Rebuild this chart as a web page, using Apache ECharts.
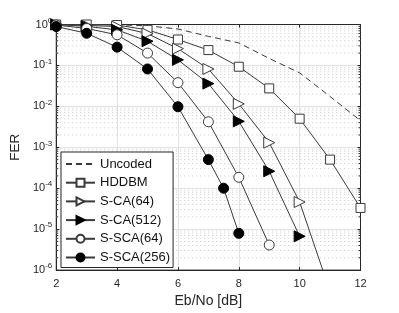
<!DOCTYPE html>
<html><head><meta charset="utf-8">
<script src="https://cdn.jsdelivr.net/npm/echarts@6/dist/echarts.min.js"></script>
<style>html,body{margin:0;padding:0;background:#fff}#c{width:399px;height:313px}</style>
</head><body><div id="c"></div>
<script>
// Data
const uncodedX = [2, 3, 4, 5, 6, 7, 8, 9, 10, 11, 12];
const uncodedY = [1, 1, 0.98, 0.93, 0.776, 0.513, 0.355, 0.148, 0.066, 0.0174, 0.00447];

const hddbmX = [2, 3, 4, 5, 6, 7, 8, 9, 10, 11, 12];
const hddbmY = [1, 1, 0.97, 0.74, 0.43, 0.237, 0.093, 0.0275, 0.005, 0.0005, 3.3e-5];

const sca64X = [2, 3, 4, 5, 6, 7, 8, 9, 10, 11];
const sca64Y = [1, 0.95, 0.89, 0.6, 0.257, 0.082, 0.0115, 0.0013, 4.6e-5, 3e-7];

const sca512X = [2, 3, 4, 5, 6, 7, 8, 9, 10];
const sca512Y = [1, 0.9, 0.74, 0.39, 0.137, 0.036, 0.0043, 2.6e-4, 6.7e-6];

const ssca64X = [2, 3, 4, 5, 6, 7, 8, 9];
const ssca64Y = [0.97, 0.8, 0.56, 0.2, 0.038, 0.0042, 1.85e-4, 4.1e-6];

const ssca256X = [2, 3, 4, 5, 6, 7, 7.5, 8];
const ssca256Y = [0.89, 0.61, 0.28, 0.082, 0.0098, 5e-4, 1e-4, 7.9e-6];

const seriesNames = ['Uncoded', 'HDDBM', 'S-CA(64)', 'S-CA(512)', 'S-SCA(64)', 'S-SCA(256)'];
const xTicks = [2, 4, 6, 8, 10, 12];
const yMin = 1e-6, yMax = 1;

function pairs(xs, ys) { return xs.map((x, i) => [x, ys[i]]); }

// minor decade values 2..9 x 10^k
const minorVals = [];
for (let e = -6; e < 0; e++) for (let m = 2; m <= 9; m++) minorVals.push([2, m * Math.pow(10, e)]);

const lineCol = '#3a3a3a';
const axisCol = '#262626';
const font = '"Liberation Sans", Arial, sans-serif';

function lineSeries(name, data, symbol, filled, size, rotate) {
  return {
    name: name, type: 'line', data: data, symbol: symbol, symbolSize: size,
    symbolRotate: rotate || 0,
    lineStyle: { color: lineCol, width: 1 },
    itemStyle: { color: filled ? '#000' : '#fff', borderColor: filled ? '#000' : lineCol, borderWidth: 1 },
    z: 3, clip: true, animation: false
  };
}

const chart = echarts.init(document.getElementById('c'));
chart.setOption({
  animation: false,
  backgroundColor: '#fff',
  grid: { left: 51.7, right: 38.5, top: 24.5, bottom: 37, show: true, borderColor: axisCol, borderWidth: 1, backgroundColor: 'transparent' },
  legend: {
    data: seriesNames.map(n => ({ name: n })),
    orient: 'vertical', left: 61, top: 152,
    itemWidth: 29, itemHeight: 10, itemGap: 4.7,
    padding: [5, 3, 3, 4],
    backgroundColor: '#fff', borderColor: axisCol, borderWidth: 1,
    textStyle: { fontFamily: font, fontSize: 13, color: '#111', lineHeight: 14 },
    selectedMode: false
  },
  xAxis: [{
    type: 'value', min: 2, max: 12, interval: 2,
    name: 'Eb/No [dB]', nameLocation: 'middle', nameGap: 23,
    nameTextStyle: { fontFamily: font, fontSize: 14, color: axisCol },
    axisLine: { show: true, onZero: false, lineStyle: { color: axisCol } },
    axisTick: { show: true, inside: true, length: 3, lineStyle: { color: axisCol } },
    axisLabel: { fontFamily: font, fontSize: 11, color: axisCol, margin: 8 },
    splitLine: { show: true, lineStyle: { color: '#e2e2e2', width: 1 } }
  }, {
    type: 'value', min: 2, max: 12, interval: 2, position: 'top',
    axisLine: { show: true, onZero: false, lineStyle: { color: axisCol } },
    axisTick: { show: true, inside: true, length: 3, lineStyle: { color: axisCol } },
    axisLabel: { show: false }, splitLine: { show: false }
  }],
  yAxis: [{
    type: 'log', logBase: 10, min: yMin, max: yMax, interval: 1,
    name: 'FER', nameLocation: 'middle', nameGap: 27, nameRotate: 90,
    nameTextStyle: { fontFamily: font, fontSize: 13.5, color: axisCol },
    axisLine: { show: true, onZero: false, lineStyle: { color: axisCol } },
    axisTick: { show: true, inside: true, length: 3, lineStyle: { color: axisCol } },
    axisLabel: {
      fontFamily: font, fontSize: 11, color: axisCol, margin: 4,
      formatter: function (v) { const e = Math.round(Math.log10(v)); return '{b|10}{s|' + e + '}'; },
      rich: { b: { fontSize: 11, fontFamily: font, color: axisCol }, s: { fontSize: 8, fontFamily: font, color: axisCol, padding: [0, 0, 8, 0] } }
    },
    splitLine: { show: true, lineStyle: { color: '#e2e2e2', width: 1 } }
  }, {
    type: 'log', logBase: 10, min: yMin, max: yMax, interval: 1, position: 'right',
    axisLine: { show: true, onZero: false, lineStyle: { color: axisCol } },
    axisTick: { show: true, inside: true, length: 3, lineStyle: { color: axisCol } },
    axisLabel: { show: false }, splitLine: { show: false }
  }],
  series: [
    {
      name: 'minorGrid', type: 'custom', data: minorVals, z: 1, silent: true, clip: false,
      renderItem: function (params, api) {
        const v = api.value(1);
        const a = api.coord([2, v]);
        const b = api.coord([12, v]);
        return {
          type: 'group', children: [
            { type: 'line', shape: { x1: a[0], y1: a[1], x2: b[0], y2: b[1] }, style: { stroke: '#c8c8c8', lineWidth: 1, lineDash: [1, 3] } },
            { type: 'line', shape: { x1: a[0], y1: a[1], x2: a[0] + 2, y2: a[1] }, style: { stroke: axisCol, lineWidth: 1 } },
            { type: 'line', shape: { x1: b[0] - 2, y1: b[1], x2: b[0], y2: b[1] }, style: { stroke: axisCol, lineWidth: 1 } }
          ]
        };
      }
    },
    {
      name: 'Uncoded', type: 'line', data: pairs(uncodedX, uncodedY), symbol: 'none', showSymbol: false,
      lineStyle: { color: lineCol, width: 1, type: [6, 4] }, itemStyle: { color: lineCol, opacity: 0 }, z: 3, animation: false
    },
    lineSeries('HDDBM', pairs(hddbmX, hddbmY), 'rect', false, 9),
    lineSeries('S-CA(64)', pairs(sca64X, sca64Y), 'triangle', false, 11, -90),
    lineSeries('S-CA(512)', pairs(sca512X, sca512Y), 'triangle', true, 11, -90),
    lineSeries('S-SCA(64)', pairs(ssca64X, ssca64Y), 'circle', false, 10),
    lineSeries('S-SCA(256)', pairs(ssca256X, ssca256Y), 'circle', true, 10)
  ]
});
</script>
</body></html>
